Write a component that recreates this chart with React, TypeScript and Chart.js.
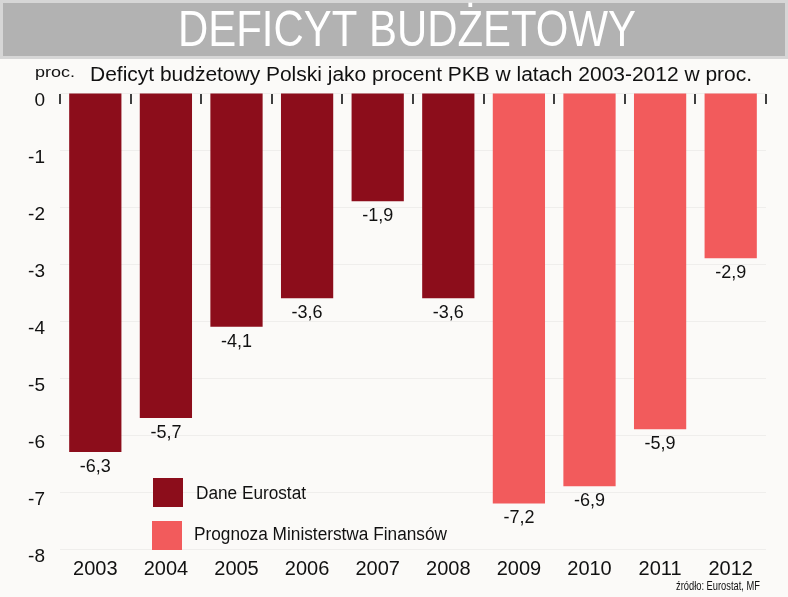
import React, { useEffect, useRef } from "react";
import { Chart, registerables } from "chart.js";

Chart.register(...registerables);

const years = ["2003", "2004", "2005", "2006", "2007", "2008", "2009", "2010", "2011", "2012"];
const eurostatValues = [-6.3, -5.7, -4.1, -3.6, -1.9, -3.6, null, null, null, null];
const forecastValues = [null, null, null, null, null, null, -7.2, -6.9, -5.9, -2.9];
const seriesNames = ["Dane Eurostat", "Prognoza Ministerstwa Finansów"];
const seriesColors = ["#8c0d1b", "#f25b5c"];
const yTicks = [0, -1, -2, -3, -4, -5, -6, -7, -8];

const TITLE = "DEFICYT BUDŻETOWY";
const SUBTITLE = "Deficyt budżetowy Polski jako procent PKB w latach 2003-2012 w proc.";
const UNIT = "proc.";
const SOURCE = "źródło: Eurostat, MF";

const FONT = "'Liberation Sans', Arial, sans-serif";
const NARROW = "'Liberation Sans Narrow', 'Liberation Sans', Arial, sans-serif";

function fitText(ctx: CanvasRenderingContext2D, text: string, x: number, y: number, width: number, font: string, color: string) {
  ctx.save();
  ctx.font = font;
  ctx.fillStyle = color;
  ctx.textAlign = "left";
  ctx.textBaseline = "middle";
  const w = ctx.measureText(text).width;
  ctx.translate(x, y);
  ctx.scale(width / w, 1);
  ctx.fillText(text, 0, 0);
  ctx.restore();
}

const decorPlugin = {
  id: "decor",
  beforeDraw(chart: any) {
    const ctx: CanvasRenderingContext2D = chart.ctx;
    ctx.save();
    ctx.fillStyle = "#fbfaf8";
    ctx.fillRect(0, 0, chart.width, chart.height);
    ctx.fillStyle = "#d6d6d6";
    ctx.fillRect(0, 0, chart.width, 59);
    ctx.fillStyle = "#b2b2b2";
    ctx.fillRect(3, 3, chart.width - 6, 53);
    ctx.restore();
    fitText(ctx, TITLE, 178, 32, 458, `50px ${NARROW}`, "#ffffff");
    fitText(ctx, UNIT, 35, 73, 40, `15px ${NARROW}`, "#111111");
    fitText(ctx, SUBTITLE, 90, 75, 662, `20px ${NARROW}`, "#111111");
    fitText(ctx, SOURCE, 676, 586, 84, `13px ${NARROW}`, "#111111");
  },
  afterDatasetsDraw(chart: any) {
    const ctx: CanvasRenderingContext2D = chart.ctx;
    const xs = chart.scales.x;
    const area = chart.chartArea;
    const n = chart.data.labels.length;
    const cw = xs.width / n;
    ctx.save();
    ctx.strokeStyle = "#111111";
    ctx.lineWidth = 1.6;
    for (let i = 0; i <= n; i++) {
      const x = Math.round(xs.getPixelForValue(0) - cw / 2 + i * cw);
      ctx.beginPath();
      ctx.moveTo(x, area.top + 1);
      ctx.lineTo(x, area.top + 11);
      ctx.stroke();
    }
    ctx.restore();
    ctx.save();
    ctx.font = `18px ${FONT}`;
    ctx.fillStyle = "#111111";
    ctx.textAlign = "center";
    ctx.textBaseline = "middle";
    chart.data.datasets.forEach((ds: any, di: number) => {
      const meta = chart.getDatasetMeta(di);
      meta.data.forEach((bar: any, i: number) => {
        const v = ds.data[i];
        if (v === null || v === undefined) return;
        ctx.fillText(String(v).replace(".", ","), bar.x, bar.y + 15);
      });
    });
    ctx.restore();
    const items = [
      { x: 153, y: 478, tx: 196, ty: 494, w: 110 },
      { x: 152, y: 521, tx: 194, ty: 535, w: 253 },
    ];
    chart.data.datasets.forEach((ds: any, di: number) => {
      const it = items[di];
      ctx.save();
      ctx.fillStyle = ds.backgroundColor;
      ctx.fillRect(it.x, it.y, 30, 29);
      ctx.restore();
      fitText(ctx, ds.label, it.tx, it.ty, it.w, `18px ${FONT}`, "#111111");
    });
  },
};

export default function App() {
  const ref = useRef<HTMLCanvasElement | null>(null);
  useEffect(() => {
    document.body.style.margin = "0";
    const canvas = ref.current;
    if (!canvas) return;
    const chart = new Chart(canvas, {
      type: "bar",
      data: {
        labels: years,
        datasets: [
          {
            label: seriesNames[0],
            data: eurostatValues,
            backgroundColor: seriesColors[0],
            grouped: false,
            barPercentage: 0.74,
            categoryPercentage: 1,
          } as any,
          {
            label: seriesNames[1],
            data: forecastValues,
            backgroundColor: seriesColors[1],
            grouped: false,
            barPercentage: 0.74,
            categoryPercentage: 1,
          } as any,
        ],
      },
      options: {
        responsive: false,
        animation: false,
        devicePixelRatio: 1,
        layout: { padding: { top: 93, right: 22, left: 0, bottom: 0 } },
        plugins: { legend: { display: false }, tooltip: { enabled: false }, title: { display: false } },
        scales: {
          x: {
            grid: { display: false, drawTicks: false },
            border: { display: false },
            ticks: { color: "#111111", font: { family: FONT, size: 20 }, padding: 8, maxRotation: 0 },
            afterFit: (s: any) => {
              s.height = 48;
            },
          },
          y: {
            min: -8,
            max: 0,
            afterBuildTicks: (s: any) => {
              s.ticks = yTicks.map((v) => ({ value: v }));
            },
            grid: { color: "#efeeec", lineWidth: 1, drawTicks: false },
            border: { display: false },
            ticks: {
              color: "#111111",
              font: { family: FONT, size: 19 },
              padding: 15,
              labelOffset: 8,
              callback: (v: any) => String(v),
            },
            afterFit: (s: any) => {
              s.width = 60;
            },
          },
        },
      },
      plugins: [decorPlugin],
    });
    return () => chart.destroy();
  }, []);
  return (
    <div style={{ width: 788, height: 597, position: "relative" }}>
      <canvas ref={ref} width={788} height={597} style={{ display: "block", width: 788, height: 597 }} />
    </div>
  );
}
